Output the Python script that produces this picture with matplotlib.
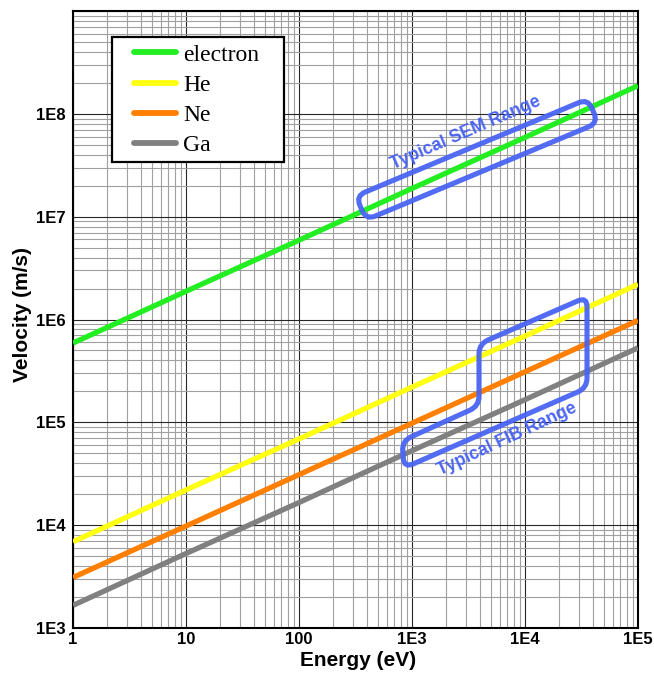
import numpy as np
import matplotlib
matplotlib.use('Agg')
import matplotlib.pyplot as plt
from matplotlib.path import Path
from matplotlib.patches import PathPatch, Rectangle
from matplotlib.transforms import IdentityTransform
from matplotlib.ticker import FixedLocator, LogLocator, NullFormatter

# Values at each decade of energy
energy_ev = [1, 10, 100, 1e3, 1e4, 1e5]
v_electron = [5.9e5, 1.88e6, 5.9e6, 1.88e7, 5.9e7, 1.88e8]
v_he = [6.9e3, 2.2e4, 6.9e4, 2.2e5, 6.9e5, 2.2e6]
v_ne = [3.1e3, 9.8e3, 3.1e4, 9.8e4, 3.1e5, 9.8e5]
v_ga = [1.66e3, 5.3e3, 1.66e4, 5.3e4, 1.66e5, 5.3e5]

series_names = ['electron', 'He', 'Ne', 'Ga']
series_colors = ['#22ee22', '#ffff11', '#ff7f00', '#808080']

x_ticks = [1, 10, 100, 1e3, 1e4, 1e5]
x_ticklabels = ['1', '10', '100', '1E3', '1E4', '1E5']
y_ticks = [1e3, 1e4, 1e5, 1e6, 1e7, 1e8]
y_ticklabels = ['1E3', '1E4', '1E5', '1E6', '1E7', '1E8']

# Outline corners of the hand-drawn range markers (energy, velocity)
sem_outline = [(319, 1.59e7), (36100, 1.40e8), (44300, 8.17e7), (392, 9.3e6)]
fib_outline = [(816, 6.59e4), (3918, 1.44e5), (3918, 5.79e5),
               (35380, 1.66e6), (35380, 2.16e5), (849, 3.6e4)]

SANS = 'Liberation Sans'
BLUE = '#4a64f4'


def rounded_path(pts, r):
    """Closed path through display-space points with rounded corners."""
    pts = np.asarray(pts, dtype=float)
    n = len(pts)
    verts, codes = [], []
    for i in range(n):
        p0, p1, p2 = pts[i - 1], pts[i], pts[(i + 1) % n]
        d1 = p0 - p1
        d2 = p2 - p1
        l1, l2 = np.hypot(*d1), np.hypot(*d2)
        a = p1 + d1 / l1 * min(r, l1 / 2)
        b = p1 + d2 / l2 * min(r, l2 / 2)
        verts.append(a)
        codes.append(Path.MOVETO if i == 0 else Path.LINETO)
        verts += [p1, b]
        codes += [Path.CURVE3, Path.CURVE3]
    verts.append(verts[0])
    codes.append(Path.CLOSEPOLY)
    return Path(verts, codes)


fig = plt.figure(figsize=(6.54, 6.77), dpi=100, facecolor='white')
ax = fig.add_axes([73 / 654, 1 - 628 / 677, 565 / 654, 617 / 677])
ax.set_xscale('log')
ax.set_yscale('log')
ax.set_xlim(1, 1e5)
ax.set_ylim(1e3, 1e9)

# grid: dark major, gray minor
ax.xaxis.set_major_locator(FixedLocator(x_ticks))
ax.yaxis.set_major_locator(FixedLocator(y_ticks))
ax.xaxis.set_minor_locator(LogLocator(base=10, subs=np.arange(2, 10), numticks=20))
ax.yaxis.set_minor_locator(LogLocator(base=10, subs=np.arange(2, 10), numticks=20))
ax.xaxis.set_minor_formatter(NullFormatter())
ax.yaxis.set_minor_formatter(NullFormatter())
ax.set_xticklabels(x_ticklabels)
ax.set_yticklabels(y_ticklabels)
ax.grid(True, which='major', color='#262626', linewidth=0.8, zorder=0)
ax.grid(True, which='minor', color='#a0a0a0', linewidth=0.8, zorder=0)
ax.set_axisbelow(True)
# the 1E9 gridline has no label
ax.axhline(1e9, color='#262626', linewidth=0.8, zorder=0)

ax.tick_params(which='both', length=0)
ax.tick_params(axis='x', pad=3, labelsize=12)
ax.tick_params(axis='y', pad=5, labelsize=12)
for lab in ax.get_xticklabels() + ax.get_yticklabels():
    lab.set_fontfamily(SANS)
    lab.set_fontweight('bold')

for spine in ax.spines.values():
    spine.set_color('black')
    spine.set_linewidth(1.5)

all_v = [v_electron, v_he, v_ne, v_ga]
handles = []
for name, vals, col in zip(series_names, all_v, series_colors):
    h, = ax.plot(energy_ev, vals, color=col, linewidth=3.8,
                 solid_capstyle='butt', label=name, zorder=3)
    handles.append(h)

ax.set_xlabel('Energy (eV)', fontfamily=SANS, fontweight='bold', fontsize=15)
ax.set_ylabel('Velocity (m/s)', fontfamily=SANS, fontweight='bold', fontsize=15)
ax.xaxis.set_label_coords(0.505, -(651 - 628) / 617)
ax.yaxis.set_label_coords(-(73 - 32) / 565, (628 - 315) / 617)
ax.xaxis.label.set_va('top')

# legend: separate frame so the padding matches
frame = Rectangle((39 / 565, (628 - 162) / 617), 172 / 565, 125 / 617,
                  transform=ax.transAxes, facecolor='white', edgecolor='black',
                  linewidth=1.6, zorder=5)
ax.add_patch(frame)
leg = ax.legend(handles=handles, loc='upper left',
                bbox_to_anchor=((134 - 73) / 565, (628 - 44) / 617),
                borderaxespad=0, borderpad=0, frameon=False,
                prop={'family': 'Liberation Serif', 'size': 17},
                handlelength=1.78, handletextpad=0.3, labelspacing=0.37)
leg.set_zorder(6)
for lh in leg.get_lines():
    lh.set_linewidth(4.2)
    lh.set_solid_capstyle('round')

# range markers, rounded in screen space
for outline in (sem_outline, fib_outline):
    disp = ax.transData.transform(outline)
    patch = PathPatch(rounded_path(disp, 10), transform=IdentityTransform(),
                      facecolor='none', edgecolor=BLUE, linewidth=3.7,
                      alpha=0.95, zorder=4)
    ax.add_patch(patch)

ax.text(3006, 6.53e7, 'Typical SEM Range', rotation=23.5, color=BLUE,
        fontfamily=SANS, fontweight='bold', fontsize=12.7,
        ha='center', va='center', rotation_mode='anchor', zorder=4)
ax.text(6930, 6.9e4, 'Typical FIB Range', rotation=25, color=BLUE,
        fontfamily=SANS, fontweight='bold', fontsize=12.7,
        ha='center', va='center', rotation_mode='anchor', zorder=4)

fig.savefig('out.png', dpi=100)
